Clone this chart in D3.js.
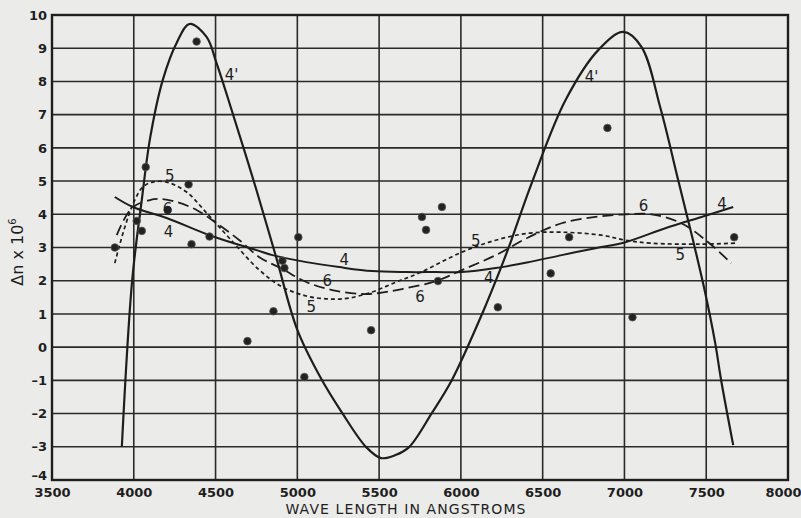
<!DOCTYPE html>
<html>
<head>
<meta charset="utf-8">
<script src="https://cdn.jsdelivr.net/npm/d3@7"></script>
<style>
  body { margin: 0; background: #ebebea; }
  svg { display: block; }
  .tick text { font-family: "DejaVu Sans", sans-serif; }
</style>
</head>
<body>
<div class="chart"></div>
<script>
// ---------------------------------------------------------------
// data
// ---------------------------------------------------------------
var xTicks = [3500, 4000, 4500, 5000, 5500, 6000, 6500, 7000, 7500, 8000];
var yTicks = [-4, -3, -2, -1, 0, 1, 2, 3, 4, 5, 6, 7, 8, 9, 10];

// curve 4' (solid, big swings)
var c4pX = [3927, 3990, 4049, 4100, 4177, 4262, 4341, 4445, 4506, 4604, 4750, 4872, 5000, 5140, 5274, 5421, 5512, 5600, 5683, 5823, 5945, 6140, 6232, 6293, 6433, 6640, 6841, 6994, 7104, 7220, 7330, 7420, 7494, 7555, 7591, 7665];
var c4pY = [-3.0, 2.0, 4.43, 6.3, 8.04, 9.16, 9.73, 9.34, 8.55, 7.05, 4.73, 2.68, 0.52, -0.9, -1.98, -3.01, -3.34, -3.25, -3.01, -1.98, -0.99, 1.12, 2.23, 3.01, 4.94, 7.44, 8.95, 9.49, 9.04, 7.2, 5.0, 3.2, 1.63, 0.12, -0.99, -2.95];

// curve 4 (solid, gentle)
var c4X = [3884, 3994, 4201, 4463, 4750, 4848, 5055, 5256, 5457, 5665, 5848, 6006, 6213, 6415, 6616, 6823, 7006, 7250, 7451, 7665];
var c4Y = [4.52, 4.22, 3.89, 3.37, 2.92, 2.77, 2.56, 2.41, 2.29, 2.26, 2.26, 2.26, 2.38, 2.56, 2.77, 2.98, 3.16, 3.58, 3.89, 4.22];

// curve 5 (short dashes)
var c5X = [3884, 3945, 4006, 4055, 4116, 4201, 4323, 4445, 4585, 4768, 4909, 5055, 5195, 5317, 5457, 5604, 5744, 6006, 6213, 6415, 6616, 6860, 7006, 7165, 7451, 7677];
var c5Y = [2.53, 3.61, 4.43, 4.82, 4.97, 4.97, 4.67, 4.04, 3.28, 2.32, 1.81, 1.54, 1.45, 1.48, 1.66, 1.96, 2.23, 2.86, 3.22, 3.43, 3.46, 3.37, 3.22, 3.13, 3.10, 3.13];

// curve 6 (long dashes)
var c6X = [3896, 3988, 4098, 4171, 4262, 4384, 4506, 4646, 4768, 4909, 5055, 5213, 5396, 5500, 5640, 5848, 6006, 6213, 6415, 6616, 6823, 7006, 7165, 7348, 7512, 7652];
var c6Y = [3.37, 4.19, 4.43, 4.46, 4.37, 4.13, 3.73, 3.22, 2.71, 2.35, 1.96, 1.72, 1.60, 1.63, 1.75, 1.99, 2.32, 2.77, 3.31, 3.73, 3.92, 4.0, 4.0, 3.73, 3.16, 2.53];

// measured points
var ptX = [3884, 4018, 4049, 4073, 4207, 4335, 4353, 4384, 4463, 5006, 4909, 4921, 4695, 4854, 5043, 5451, 5762, 5787, 5884, 5860, 6226, 6549, 6662, 6896, 7049, 7671];
var ptY = [3.0, 3.8, 3.5, 5.42, 4.13, 4.9, 3.1, 9.2, 3.33, 3.31, 2.6, 2.38, 0.18, 1.08, -0.9, 0.51, 3.92, 3.53, 4.22, 1.99, 1.2, 2.22, 3.31, 6.6, 0.9, 3.31];

// curve labels
var labText = ["4'", "4'", "5", "6", "4", "4", "6", "5", "6", "5", "4", "6", "4", "5"];
var labX = [4598, 6799, 4220, 4207, 4213, 5287, 5183, 5085, 5750, 6091, 6171, 7116, 7597, 7341];
var labY = [8.19, 8.13, 5.15, 4.16, 3.47, 2.62, 1.99, 1.21, 1.51, 3.2, 2.08, 4.25, 4.31, 2.77];

// ---------------------------------------------------------------
// set up
// ---------------------------------------------------------------
var w = 801,
    h = 518,
    m = {top: 15, right: 13, bottom: 38, left: 52};

var ink = '#1e1e1e';

var svg = d3.select('.chart')
    .append('svg')
    .attr('width', w)
    .attr('height', h);

var x = d3.scaleLinear().domain([3500, 8000]).range([m.left, w - m.right]);
var y = d3.scaleLinear().domain([-4, 10]).range([h - m.bottom, m.top]);

// ---------------------------------------------------------------
// grid
// ---------------------------------------------------------------
svg.append('g')
    .selectAll('line')
    .data(xTicks)
    .enter()
    .append('line')
    .attr('x1', function(d) { return x(d); })
    .attr('x2', function(d) { return x(d); })
    .attr('y1', y(-4))
    .attr('y2', y(10))
    .attr('stroke', '#2a2a2a')
    .attr('stroke-width', 1.6);

svg.append('g')
    .selectAll('line')
    .data(yTicks)
    .enter()
    .append('line')
    .attr('y1', function(d) { return y(d); })
    .attr('y2', function(d) { return y(d); })
    .attr('x1', x(3500))
    .attr('x2', x(8000))
    .attr('stroke', '#2a2a2a')
    .attr('stroke-width', 1.6);

// frame
svg.append('rect')
    .attr('x', x(3500))
    .attr('y', y(10))
    .attr('width', x(8000) - x(3500))
    .attr('height', y(-4) - y(10))
    .attr('fill', 'none')
    .attr('stroke', ink)
    .attr('stroke-width', 2.4);

// ---------------------------------------------------------------
// axes (labels only)
// ---------------------------------------------------------------
svg.append('g')
    .attr('transform', 'translate(0,' + y(-4) + ')')
    .call(d3.axisBottom(x).tickValues(xTicks).tickSize(0).tickPadding(8).tickFormat(d3.format('d')))
    .selectAll('text')
    .attr('dx', function(d) { return d === 8000 ? -5 : 0; });

svg.append('g')
    .attr('transform', 'translate(' + x(3500) + ',0)')
    .call(d3.axisLeft(y).tickValues(yTicks).tickSize(0).tickPadding(5)
        .tickFormat(function(d) { return d < 0 ? '\u2013' + Math.abs(d) : d; }))
    .selectAll('text')
    .attr('dy', function(d) { return d === -4 ? '-0.05em' : '0.32em'; });

svg.selectAll('.domain').remove();
svg.selectAll('.tick text')
    .attr('font-size', 13)
    .attr('font-weight', 'bold')
    .attr('fill', ink);

svg.append('text')
    .attr('x', 406)
    .attr('y', 514)
    .attr('text-anchor', 'middle')
    .attr('font-family', 'DejaVu Sans, sans-serif')
    .attr('font-size', 14)
    .attr('letter-spacing', 1.1)
    .attr('fill', ink)
    .text('WAVE LENGTH IN ANGSTROMS');

var yt = svg.append('text')
    .attr('transform', 'translate(23,252) rotate(-90)')
    .attr('text-anchor', 'middle')
    .attr('font-family', 'DejaVu Sans, sans-serif')
    .attr('font-size', 16)
    .attr('fill', ink);
yt.append('tspan').text('\u0394n x 10');
yt.append('tspan').attr('font-size', 10).attr('dy', -7).text('6');

// ---------------------------------------------------------------
// curves
// ---------------------------------------------------------------
var line = d3.line()
    .x(function(d) { return x(d[0]); })
    .y(function(d) { return y(d[1]); })
    .curve(d3.curveCatmullRom.alpha(0.5));

function pairs(xs, ys) {
    return xs.map(function(v, i) { return [v, ys[i]]; });
}

var curves = [
    {pts: pairs(c4pX, c4pY), dash: null, sw: 2.2},
    {pts: pairs(c4X, c4Y), dash: null, sw: 2},
    {pts: pairs(c5X, c5Y), dash: '4,3', sw: 1.7},
    {pts: pairs(c6X, c6Y), dash: '11,5', sw: 1.8}
];

svg.selectAll('path.curve')
    .data(curves)
    .enter()
    .append('path')
    .attr('class', 'curve')
    .attr('d', function(d) { return line(d.pts); })
    .attr('fill', 'none')
    .attr('stroke', ink)
    .attr('stroke-width', function(d) { return d.sw; })
    .attr('stroke-dasharray', function(d) { return d.dash; });

// ---------------------------------------------------------------
// points
// ---------------------------------------------------------------
svg.selectAll('circle')
    .data(pairs(ptX, ptY))
    .enter()
    .append('circle')
    .attr('cx', function(d) { return x(d[0]); })
    .attr('cy', function(d) { return y(d[1]); })
    .attr('r', 3.8)
    .attr('fill', '#222')
    .attr('stroke', '#555')
    .attr('stroke-width', 0.8);

// ---------------------------------------------------------------
// curve labels
// ---------------------------------------------------------------
svg.selectAll('text.lab')
    .data(labText)
    .enter()
    .append('text')
    .attr('class', 'lab')
    .attr('x', function(d, i) { return x(labX[i]); })
    .attr('y', function(d, i) { return y(labY[i]); })
    .attr('dy', '0.35em')
    .attr('text-anchor', 'middle')
    .attr('font-family', 'DejaVu Sans, sans-serif')
    .attr('font-size', 15)
    .attr('fill', ink)
    .text(function(d) { return d; });
</script>
</body>
</html>
